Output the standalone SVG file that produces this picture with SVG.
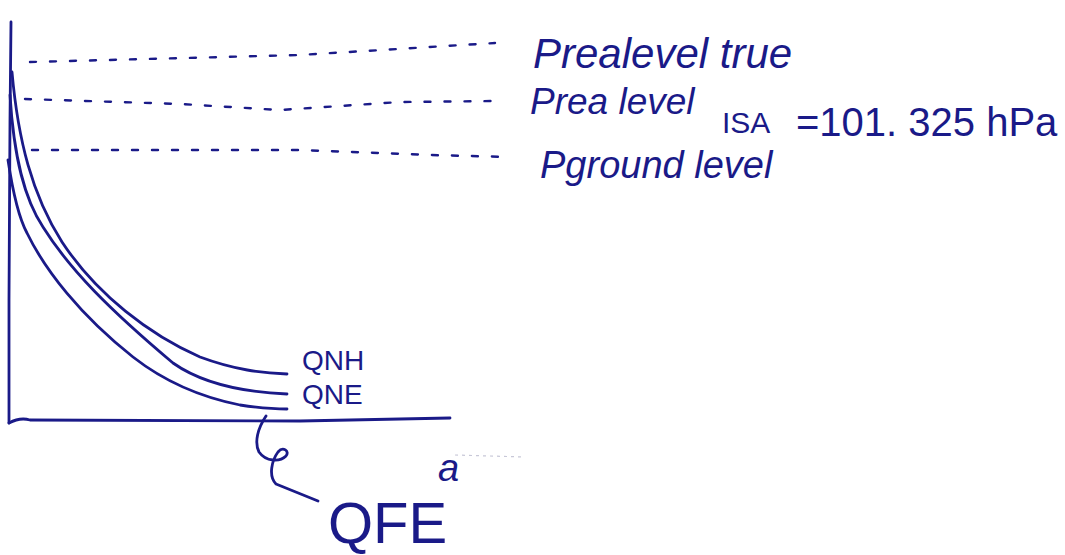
<svg xmlns="http://www.w3.org/2000/svg" width="1065" height="555" viewBox="0 0 1065 555">
  <style>
    .ink { fill: none; stroke: #1a1a88; stroke-width: 2.8; stroke-linecap: round; stroke-linejoin: round; }
    .dots { fill: none; stroke: #1a1a88; stroke-width: 2.4; stroke-linecap: round; stroke-dasharray: 6 14; }
    .hand { font-family: "Liberation Sans", "DejaVu Sans", sans-serif; font-style: italic; fill: #1a1a88; }
    .caps { font-family: "Liberation Sans", "DejaVu Sans", sans-serif; fill: #1a1a88; }
  </style>
  <rect width="1065" height="555" fill="#ffffff"/>

  <!-- axes -->
  <g id="axes">
    <path class="ink" d="M11 22 L10 120 L9 300 L9 423"/>
    <path class="ink" d="M9 423 Q20 417 30 420 L300 421 L450 418"/>
  </g>

  <!-- pressure-level reference lines -->
  <g id="connectors">
    <path class="dots" d="M30 62 L300 55 L495 43"/>
    <path class="dots" d="M25 99 L180 104 L280 110 L400 102 L497 101"/>
    <path class="dots" d="M32 150 L300 150 L430 155 L510 157"/>
    <!-- leader to QFE -->
    <path class="ink" d="M266 416 C258 428 254 442 259 452 C266 462 280 462 286 456 C290 451 283 446 278 452 C272 460 268 476 276 484 L318 501"/>
    <path fill="none" stroke="#c8c8d8" stroke-width="1.2" stroke-dasharray="3 4" d="M455 455 L525 457"/>
  </g>

  <!-- altitude curves -->
  <g id="curve-qnh">
    <path class="ink" d="M12 72 C18 140 32 195 62 242 C97 295 150 335 200 357 C235 370 262 373 287 374"/>
    <text class="caps" x="302" y="370" font-size="28">QNH</text>
  </g>
  <g id="curve-qne">
    <path class="ink" d="M10 95 C14 160 25 200 43 227 C70 270 110 310 173 363 C200 382 240 392 287 394"/>
    <text class="caps" x="302" y="404" font-size="28">QNE</text>
  </g>
  <g id="curve-qfe">
    <path class="ink" d="M8 160 C14 200 20 220 27 233 C45 270 80 315 133 357 C165 382 200 397 240 405 C260 408 275 409 287 409"/>
    <text class="caps" x="328" y="543" font-size="58">QFE</text>
  </g>
  <g id="label-a">
    <text class="hand" x="438" y="481" font-size="38">a</text>
  </g>

  <!-- level labels -->
  <g id="label-true">
    <text class="hand" x="533" y="68" font-size="42">Prealevel true</text>
  </g>
  <g id="label-isa">
    <text class="hand" x="530" y="114" font-size="37">Prea level</text>
    <text class="caps" x="722" y="133" font-size="30">ISA</text>
    <text class="caps" x="796" y="136" font-size="40">=101. 325 hPa</text>
  </g>
  <g id="label-ground">
    <text class="hand" x="540" y="178" font-size="38">Pground level</text>
  </g>
</svg>
